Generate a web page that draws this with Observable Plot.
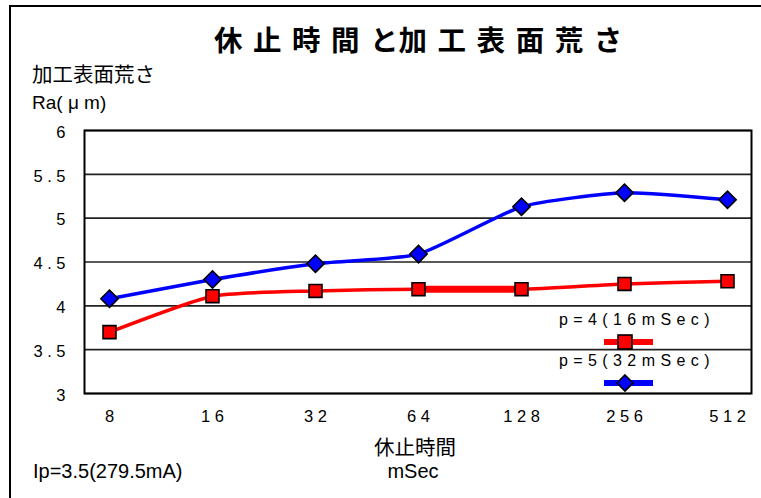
<!DOCTYPE html>
<html><head><meta charset="utf-8">
<script src="https://cdn.jsdelivr.net/npm/d3@7"></script>
<script src="https://cdn.jsdelivr.net/npm/@observablehq/plot@0.6"></script>
<style>
body{margin:0;background:#fff;}
#wrap{position:relative;width:761px;height:498px;overflow:hidden;font-family:"Liberation Sans",Arial,sans-serif;color:#000;}
#border{position:absolute;left:9px;top:5px;width:800px;height:600px;border:2px solid #000;box-sizing:border-box;}
#chart{position:absolute;left:0;top:0;}
.t{position:absolute;white-space:nowrap;}
.jp{font-family:"Noto Sans CJK JP","Noto Sans CJK SC",sans-serif;}
</style></head>
<body>
<div id="wrap">
  <div id="border"></div>
  <div id="chart"></div>
  <div class="t jp" id="title" style="left:214px;top:22px;font-size:28.5px;line-height:34px;font-weight:bold;letter-spacing:10.5px;"></div>
  <div class="t jp" id="ylab1" style="left:32px;top:61px;font-size:20.5px;line-height:24px;"></div>
  <div class="t" id="ylab2" style="left:32px;top:93px;font-size:19px;line-height:19px;"></div>
  <div class="t jp" id="xlab1" style="left:0;width:830px;text-align:center;top:434px;font-size:20.5px;line-height:24px;"></div>
  <div class="t" id="xlab2" style="left:0;width:826px;text-align:center;top:461px;font-size:20px;line-height:20px;"></div>
  <div class="t" id="note" style="left:33px;top:461px;font-size:20px;line-height:20px;"></div>
  <div id="legend"></div>
</div>
<script>
// ---- data ----
const categories = [8, 16, 32, 64, 128, 256, 512];
const seriesNames = ["p=4(16mSec)", "p=5(32mSec)"];
const valuesP4 = [3.70, 4.11, 4.17, 4.19, 4.19, 4.25, 4.28];
const valuesP5 = [4.08, 4.30, 4.48, 4.59, 5.13, 5.29, 5.21];
const yTicks = [3, 3.5, 4, 4.5, 5, 5.5, 6];
const seriesColors = ["#ff0000", "#0000ff"];
const titleText = "休止時間と加工表面荒さ";
const yLabelLines = ["加工表面荒さ", "Ra( μ m)"];
const xLabelLines = ["休止時間", "mSec"];
const noteText = "Ip=3.5(279.5mA)";
// categories where the p=4 line is drawn heavier in the original
const heavySpanP4 = [64, 128];

const rows = [];
[valuesP4, valuesP5].forEach((vals, si) => {
  vals.forEach((v, i) => rows.push({series: seriesNames[si], x: categories[i], y: v}));
});
const spaced = d => String(d).split("").join(" ");
const p4rows = rows.filter(d => d.series === seriesNames[0]);
const p5rows = rows.filter(d => d.series === seriesNames[1]);

const chart = Plot.plot({
  width: 761, height: 498,
  marginLeft: 84, marginRight: 10, marginTop: 130, marginBottom: 105,
  style: {fontFamily: "'Liberation Sans', Arial, sans-serif", background: "transparent", color: "#000"},
  x: {type: "point", domain: categories, padding: 0.23},
  y: {domain: [3, 6]},
  color: {domain: seriesNames, range: seriesColors},
  marks: [
    Plot.gridY(yTicks, {stroke: "#222", strokeOpacity: 1, strokeWidth: 1.6}),
    Plot.frame({stroke: "#000", strokeWidth: 2}),
    Plot.axisY(yTicks, {tickSize: 0, tickPadding: 19, fontSize: 16.5, tickFormat: spaced, label: null, dy: 2}),
    Plot.axisX(categories, {tickSize: 0, tickPadding: 17, fontSize: 16.5, tickFormat: spaced, label: null}),
    Plot.line(rows, {x: "x", y: "y", z: "series", stroke: "series", curve: "cardinal", tension: 0.45, strokeWidth: 3.5}),
    Plot.line(p4rows.filter(d => heavySpanP4.includes(d.x)), {x: "x", y: "y", stroke: seriesColors[0], strokeWidth: 7}),
    Plot.dot(p4rows, {x: "x", y: "y", symbol: "square", r: 7.3, fill: seriesColors[0], stroke: "#000", strokeWidth: 1.6}),
    Plot.dot(p5rows, {x: "x", y: "y", symbol: "square", r: 6.9, rotate: 45, fill: seriesColors[1], stroke: "#000", strokeWidth: 1.6})
  ]
});
document.getElementById("chart").appendChild(chart);

// title: the "と" sits tight against the next glyph in the original
const titleEl = document.getElementById("title");
for (const ch of titleText) {
  const s = document.createElement("span");
  s.textContent = ch;
  if (ch === "と") s.style.letterSpacing = "0px";
  titleEl.appendChild(s);
}
document.getElementById("ylab1").textContent = yLabelLines[0];
document.getElementById("ylab2").textContent = yLabelLines[1];
document.getElementById("xlab1").textContent = xLabelLines[0];
document.getElementById("xlab2").textContent = xLabelLines[1];
document.getElementById("note").textContent = noteText;

// legend (inside plot area, lower right)
const legend = document.getElementById("legend");
const legendTops = [309, 350];
seriesNames.forEach((name, i) => {
  const t = document.createElement("div");
  t.className = "t";
  t.style.cssText = `left:559px;top:${legendTops[i]}px;font-size:16px;line-height:22px;letter-spacing:5.4px;`;
  t.textContent = name;
  legend.appendChild(t);
  const svg = d3.create("svg").attr("width", 60).attr("height", 22)
    .style("position", "absolute").style("left", "600px").style("top", (legendTops[i] + 22) + "px");
  svg.append("line").attr("x1", 4).attr("x2", 53).attr("y1", 11).attr("y2", 11)
    .attr("stroke", seriesColors[i]).attr("stroke-width", 6);
  if (i === 0) {
    svg.append("rect").attr("x", 25 - 7).attr("y", 11 - 7).attr("width", 14).attr("height", 14)
      .attr("fill", seriesColors[i]).attr("stroke", "#000").attr("stroke-width", 1.6);
  } else {
    svg.append("path").attr("d", "M25,3L33,11L25,19L17,11Z")
      .attr("fill", seriesColors[i]).attr("stroke", "#000").attr("stroke-width", 1.6);
  }
  legend.appendChild(svg.node());
});
</script>
</body></html>
